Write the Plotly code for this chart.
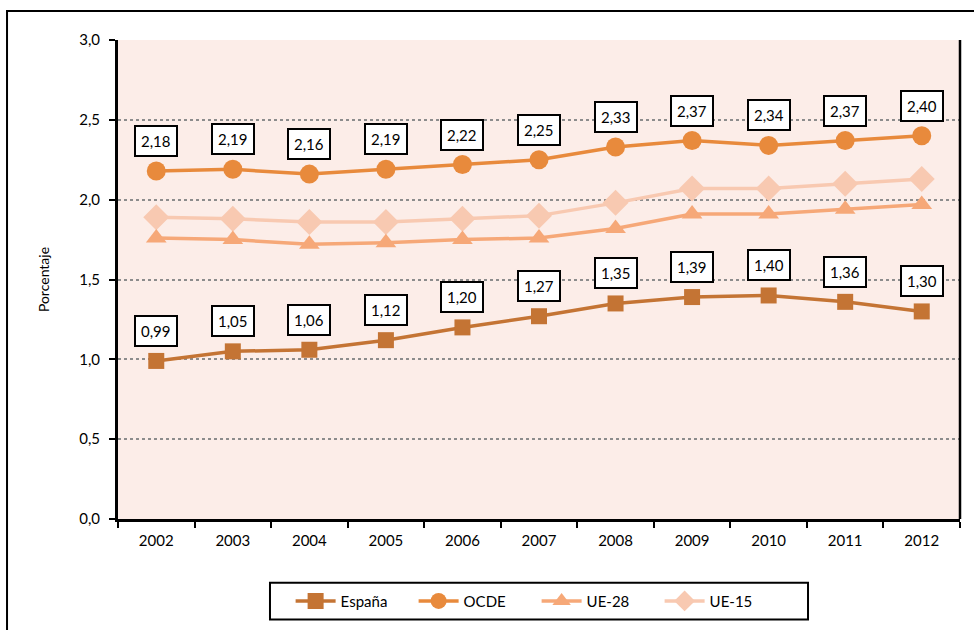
import plotly.graph_objects as go

# Datos (porcentaje)
years = ['2002', '2003', '2004', '2005', '2006', '2007', '2008', '2009', '2010', '2011', '2012']
espana = [0.99, 1.05, 1.06, 1.12, 1.20, 1.27, 1.35, 1.39, 1.40, 1.36, 1.30]
ocde = [2.18, 2.19, 2.16, 2.19, 2.22, 2.25, 2.33, 2.37, 2.34, 2.37, 2.40]
ue28 = [1.76, 1.75, 1.72, 1.73, 1.75, 1.76, 1.82, 1.91, 1.91, 1.94, 1.97]
ue15 = [1.89, 1.88, 1.86, 1.86, 1.88, 1.90, 1.98, 2.07, 2.07, 2.10, 2.13]

FONT = 'Lato, "Open Sans", sans-serif'

fig = go.Figure()

series = [
    ('España', espana, '#C47434', 'square', 16),
    ('OCDE', ocde, '#E88A3C', 'circle', 19),
    ('UE-28', ue28, '#F6A878', 'triangle-up', 18),
    ('UE-15', ue15, '#F8C9B1', 'diamond', 20),
]

# draw lighter lines first so España / OCDE sit on top
for rank, (name, vals, color, symbol, size) in reversed(list(enumerate(series))):
    fig.add_trace(go.Scatter(
        x=years, y=vals, name=name, mode='lines+markers',
        line=dict(color=color, width=3.5),
        marker=dict(symbol=symbol, size=size, color=color),
        legendrank=rank + 1,
    ))

# value boxes above España and OCDE (x given as category index)
for vals in (espana, ocde):
    for i, v in enumerate(vals):
        fig.add_annotation(
            x=i, y=v, text=f'{v:.2f}'.replace('.', ','),
            showarrow=False, yshift=30,
            bgcolor='white', bordercolor='black', borderwidth=2, borderpad=5,
            font=dict(family=FONT, size=15, color='black'),
        )

# right border of plot area
fig.add_shape(type='line', xref='paper', yref='paper', x0=1, x1=1, y0=0, y1=1,
              line=dict(color='black', width=2.5))
# outer chart frame
fig.add_shape(type='rect', xref='paper', yref='paper',
              x0=-0.1318, x1=1.03, y0=-0.25, y1=1.0603,
              line=dict(color='black', width=2), fillcolor='rgba(0,0,0,0)')
# legend frame
fig.add_shape(type='rect', xref='paper', yref='paper',
              x0=0.1805, x1=0.8195, y0=-0.1331, y1=-0.2100,
              line=dict(color='black', width=2), fillcolor='white', layer='below')

fig.update_layout(
    width=974, height=630,
    margin=dict(l=118, r=14, t=40, b=109),
    paper_bgcolor='white',
    plot_bgcolor='#FCEDE8',
    separators=',.',
    font=dict(family=FONT, size=14, color='black'),
    showlegend=True,
    legend=dict(
        orientation='h', x=0.205, xanchor='left', y=-0.1715, yanchor='middle',
        bgcolor='rgba(0,0,0,0)', borderwidth=0,
        font=dict(family=FONT, size=15),
        entrywidth=68, itemwidth=40, traceorder='normal',
    ),
    xaxis=dict(
        type='category', tickson='boundaries', ticks='outside', ticklen=6,
        tickwidth=2, tickcolor='black', showline=True, linecolor='black',
        linewidth=3, showgrid=False, tickfont=dict(size=15),
        range=[-0.5, 10.5], ticklabelstandoff=6,
    ),
    yaxis=dict(
        range=[0, 3.0], dtick=0.5, tickformat='.1f', ticks='outside',
        ticklen=6, tickwidth=2, tickcolor='black', showline=True,
        linecolor='black', linewidth=3, showgrid=True, gridcolor='#8C8C8C',
        griddash='dot', gridwidth=1.5, zeroline=False, tickfont=dict(size=15),
        ticklabelstandoff=6,
        title=dict(text='Porcentaje', font=dict(size=14), standoff=27),
    ),
)

# remove the default page margin so the figure sits at the window origin
fig.write_html('out.html', post_script="document.body.style.margin='0';",
               config={'displayModeBar': False})
